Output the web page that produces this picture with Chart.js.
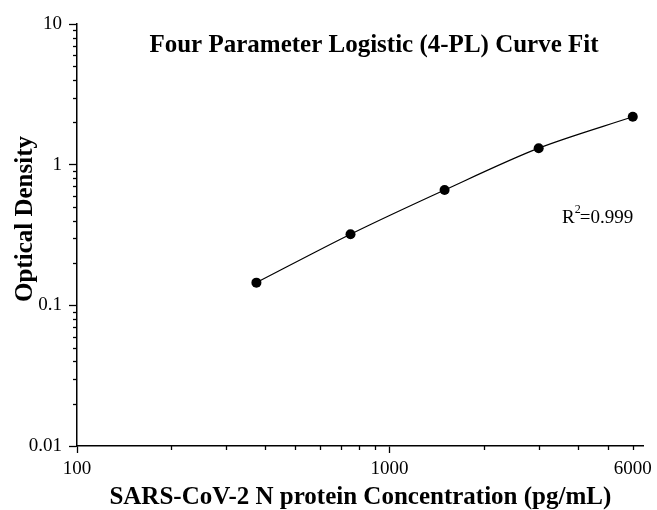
<!DOCTYPE html>
<html>
<head>
<meta charset="utf-8">
<script src="https://cdn.jsdelivr.net/npm/chart.js@4"></script>
<style>
body{margin:0;background:#fff;}
</style>
</head>
<body>
<canvas id="curvefit" width="657" height="510"></canvas>
<script>
// concentrations (pg/mL) and measured OD
var concentration = [375, 750, 1500, 3000, 6000];
var opticalDensity = [0.145, 0.32, 0.66, 1.31, 2.19];

var xTickValues = [100, 1000, 6000];
var xMinorTicks = [200, 300, 400, 500, 600, 700, 800, 900, 2000, 3000, 4000, 5000, 6000];
var yTickValues = [0.01, 0.1, 1, 10];
var yMinorTicks = [0.02, 0.03, 0.04, 0.05, 0.06, 0.07, 0.08, 0.09,
                   0.2, 0.3, 0.4, 0.5, 0.6, 0.7, 0.8, 0.9,
                   2, 3, 4, 5, 6, 7, 8, 9];

var chartTitle = "Four Parameter Logistic (4-PL) Curve Fit";
var xTitle = "SARS-CoV-2 N protein Concentration (pg/mL)";
var yTitle = "Optical Density";
var rSquared = "0.999";

var serif = "'Liberation Serif', 'Times New Roman', serif";

var extras = {
    id: "extras",
    afterDraw: function(chart){
        var ctx = chart.ctx;
        var xs = chart.scales.x, ys = chart.scales.y;
        var area = chart.chartArea;
        ctx.save();
        ctx.strokeStyle = "#000";
        ctx.lineWidth = 1.3;
        // minor ticks
        xMinorTicks.forEach(function(v){
            var px = Math.round(xs.getPixelForValue(v)) + 0.5;
            ctx.beginPath();
            ctx.moveTo(px, area.bottom);
            ctx.lineTo(px, area.bottom + 4);
            ctx.stroke();
        });
        yMinorTicks.forEach(function(v){
            var py = Math.round(ys.getPixelForValue(v)) + 0.5;
            ctx.beginPath();
            ctx.moveTo(area.left, py);
            ctx.lineTo(area.left - 4, py);
            ctx.stroke();
        });
        // title
        ctx.fillStyle = "#000";
        ctx.textAlign = "center";
        ctx.textBaseline = "alphabetic";
        ctx.font = "bold 25px " + serif;
        ctx.fillText(chartTitle, 374, 52);
        // y axis title
        ctx.save();
        ctx.translate(32, 219);
        ctx.rotate(-Math.PI / 2);
        ctx.font = "bold 25px " + serif;
        ctx.fillText(yTitle, 0, 0);
        ctx.restore();
        // R squared
        ctx.textAlign = "left";
        ctx.font = "19px " + serif;
        var rx = 562, ry = 223;
        ctx.fillText("R", rx, ry);
        var w = ctx.measureText("R").width;
        ctx.font = "12px " + serif;
        ctx.fillText("2", rx + w, ry - 10);
        var w2 = ctx.measureText("2").width;
        ctx.font = "19px " + serif;
        ctx.fillText("=" + rSquared, rx + w + w2 - 1, ry);
        ctx.restore();
    }
};

var ctxL = document.getElementById("curvefit").getContext("2d");
var fitChart = new Chart(ctxL, {
    type: "line",
    data: {
        datasets: [
            {
                label: "OD",
                data: concentration.map(function(c, i){ return {x: c, y: opticalDensity[i]}; }),
                borderColor: "#000",
                borderWidth: 1.2,
                backgroundColor: "#000",
                pointBackgroundColor: "#000",
                pointBorderColor: "#000",
                pointRadius: 5,
                pointBorderWidth: 0,
                tension: 0.3,
                fill: false
            }
        ]
    },
    options: {
        responsive: false,
        animation: false,
        layout: {padding: {top: 24, right: 12, left: 0, bottom: 0}},
        plugins: {legend: {display: false}, tooltip: {enabled: false}},
        scales: {
            x: {
                type: "logarithmic",
                min: 100,
                max: 6500,
                afterBuildTicks: function(scale){
                    scale.ticks = xTickValues.map(function(v){ return {value: v}; });
                },
                afterFit: function(scale){ scale.height = 64; },
                grid: {
                    drawOnChartArea: false,
                    tickLength: 7,
                    tickWidth: 1.3,
                    tickColor: function(c){ return (c.tick && c.tick.value === 6000) ? "rgba(0,0,0,0)" : "#000"; }
                },
                border: {display: true, color: "#000", width: 1.5},
                ticks: {
                    color: "#000",
                    font: {family: serif, size: 19},
                    padding: 5,
                    maxRotation: 0,
                    autoSkip: false,
                    callback: function(v){ return String(v); }
                },
                title: {
                    display: true,
                    text: xTitle,
                    color: "#000",
                    font: {family: serif, size: 25, weight: "bold", lineHeight: 1},
                    padding: {top: 0, bottom: 0}
                }
            },
            y: {
                type: "logarithmic",
                min: 0.01,
                max: 10,
                afterBuildTicks: function(scale){
                    scale.ticks = yTickValues.map(function(v){ return {value: v}; });
                },
                afterFit: function(scale){ scale.width = 77; },
                grid: {
                    drawOnChartArea: false,
                    tickLength: 8,
                    tickWidth: 1.3,
                    tickColor: "#000"
                },
                border: {display: true, color: "#000", width: 1.5},
                ticks: {
                    color: "#000",
                    font: {family: serif, size: 19},
                    padding: 7,
                    autoSkip: false,
                    callback: function(v){ return String(v); }
                }
            }
        }
    },
    plugins: [extras]
});
</script>
</body>
</html>
